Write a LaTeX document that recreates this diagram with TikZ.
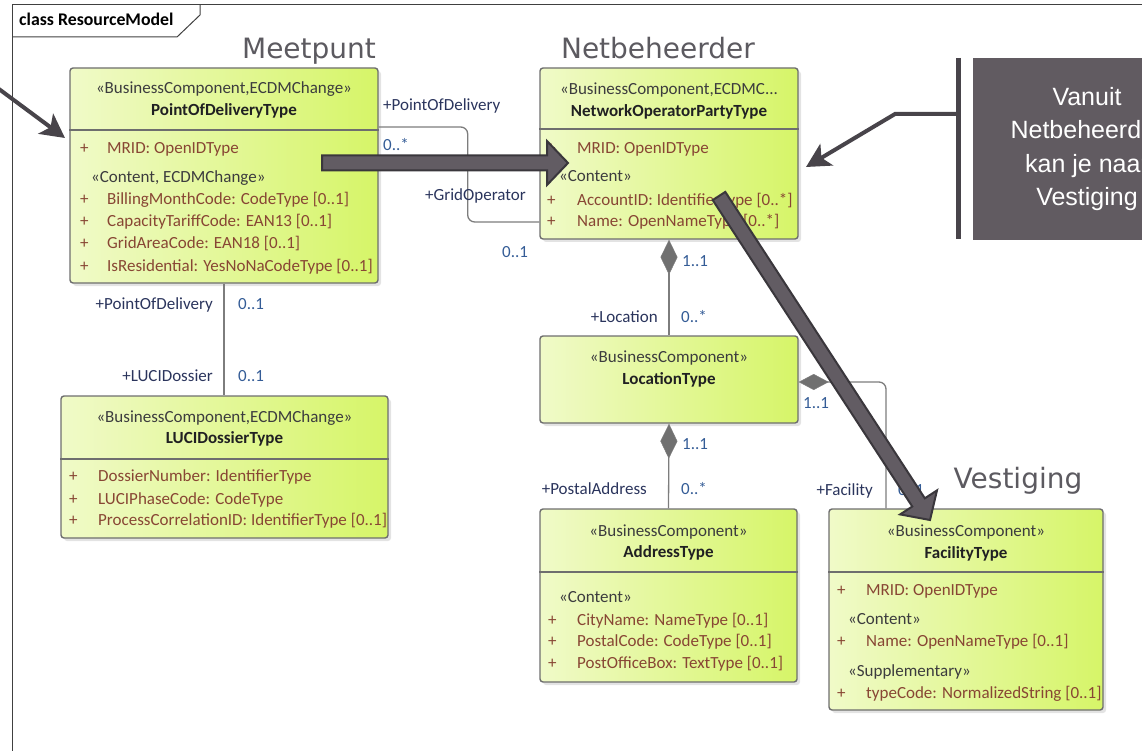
\documentclass[tikz,border=0pt]{standalone}
\usepackage{fontspec}
\setmainfont{Carlito}
\newfontfamily\titlefont{DejaVu Sans}
\newfontfamily\notefont{Liberation Sans}
\usetikzlibrary{arrows.meta,calc,shadows}

\definecolor{boxline}{RGB}{110,110,110}
\definecolor{boxleft}{RGB}{240,250,200}
\definecolor{boxright}{RGB}{214,245,104}
\definecolor{stereocol}{RGB}{60,60,62}
\definecolor{namecol}{RGB}{32,32,34}
\definecolor{attrcol}{RGB}{136,70,52}
\definecolor{rolecol}{RGB}{42,52,92}
\definecolor{multcol}{RGB}{52,92,150}
\definecolor{linecol}{RGB}{125,125,125}
\definecolor{diacol}{RGB}{112,112,112}
\definecolor{titlecol}{RGB}{92,90,96}
\definecolor{notecol}{RGB}{97,91,97}
\definecolor{bigfill}{RGB}{98,92,99}
\definecolor{bigline}{RGB}{58,55,60}
\definecolor{calloutcol}{RGB}{72,68,74}

\tikzset{
  umlclass/.style={draw=boxline, line width=1.4pt, rounded corners=3pt, inner sep=0pt,
    left color=boxleft, right color=boxright,
    drop shadow={shadow xshift=3pt, shadow yshift=-3pt, opacity=0.22}},
  boxsep/.style={draw=boxline, line width=1.2pt},
  stereo/.style={anchor=base, inner sep=0pt, text=stereocol, font=\fontsize{17}{20}\selectfont},
  cname/.style={anchor=base, inner sep=0pt, text=namecol, font=\fontsize{17}{20}\selectfont\bfseries},
  attr/.style={anchor=base west, inner sep=0pt, text=attrcol, font=\fontsize{17}{20}\selectfont},
  compart/.style={anchor=base west, inner sep=0pt, text=stereocol, font=\fontsize{17}{20}\selectfont},
  role/.style={anchor=base east, inner sep=0pt, text=rolecol, font=\fontsize{17}{20}\selectfont},
  mult/.style={anchor=base west, inner sep=0pt, text=multcol, font=\fontsize{17}{20}\selectfont},
  assoc/.style={draw=linecol, line width=1.3pt},
  pkgtitle/.style={anchor=base, inner sep=0pt, text=titlecol, font=\titlefont\fontsize{28}{32}\selectfont},
  callout/.style={draw=calloutcol, line width=4pt, line join=miter,
    -{Stealth[length=24pt,width=25pt,inset=6pt]}},
  bigarrow/.style={draw=bigline, fill=bigfill, line width=2pt, line join=miter}
}

% fat annotation arrow from #1 to #2
\newcommand{\fatarrow}[2]{%
  \coordinate (fh) at ($(#2)!21pt!(#1)$);
  \filldraw[bigarrow] ($(#1)!7.5pt!90:(#2)$) -- ($(fh)!7.5pt!-90:(#1)$)
    -- ($(fh)!22pt!-90:(#1)$) -- (#2) -- ($(fh)!22pt!90:(#1)$)
    -- ($(fh)!7.5pt!90:(#1)$) -- ($(#1)!7.5pt!-90:(#2)$) -- cycle;}

\begin{document}
\begin{tikzpicture}[x=1pt, y=-1pt]
  \useasboundingbox (0,0) rectangle (1142,751);

  % frame
  \draw[black!75, line width=1pt] (12,760) -- (12,5) -- (1160,5);
  \draw[black!75, line width=1pt] (12,37) -- (177,37) -- (200,15) -- (200,5);
  \node[anchor=base west, inner sep=0pt, font=\fontsize{17.8}{20}\selectfont\bfseries] (frametitle) at (19,26) {class ResourceModel};

  % package titles
  \node[pkgtitle] (meetpunt) at (309,59) {Meetpunt};
  \node[pkgtitle] (netbeheerder) at (658,59) {Netbeheerder};
  \node[pkgtitle] (vestiging) at (1018,488) {Vestiging};

  % classes
  \node[umlclass, minimum width=308pt, minimum height=215pt] (pod) at (224,175.5) {};
  \node[umlclass, minimum width=258pt, minimum height=171pt] (nop) at (669,153.5) {};
  \node[umlclass, minimum width=327pt, minimum height=142pt] (luci) at (224.5,467) {};
  \node[umlclass, minimum width=258pt, minimum height=87pt] (loc) at (669,379.5) {};
  \node[umlclass, minimum width=257pt, minimum height=173pt] (addr) at (668.5,595.5) {};
  \node[umlclass, minimum width=274pt, minimum height=201pt] (fac) at (966,609.5) {};

  \draw[boxsep] (pod.west |- 0,130) -- (pod.east |- 0,130);
  \draw[boxsep] (nop.west |- 0,129) -- (nop.east |- 0,129);
  \draw[boxsep] (luci.west |- 0,459) -- (luci.east |- 0,459);
  \draw[boxsep] (addr.west |- 0,572) -- (addr.east |- 0,572);
  \draw[boxsep] (fac.west |- 0,572) -- (fac.east |- 0,572);

  % PointOfDeliveryType
  \node[stereo] (podst) at (224,94) {«BusinessComponent,ECDMChange»};
  \node[cname] (podname) at (224,116) {PointOfDeliveryType};
  \node[attr] (podp1) at (80,154) {+};
  \node[attr] (poda1) at (107,154) {MRID: OpenIDType};
  \node[compart] (podc) at (91,183) {«Content, ECDMChange»};
  \node[attr] (podp2) at (80,205) {+};
  \node[attr] (poda2) at (107,205) {BillingMonthCode: CodeType [0..1]};
  \node[attr] (podp3) at (80,227) {+};
  \node[attr] (poda3) at (107,227) {CapacityTariffCode: EAN13 [0..1]};
  \node[attr] (podp4) at (80,248) {+};
  \node[attr] (poda4) at (107,248) {GridAreaCode: EAN18 [0..1]};
  \node[attr] (podp5) at (80,271) {+};
  \node[attr] (poda5) at (107,271) {IsResidential: YesNoNaCodeType [0..1]};

  % NetworkOperatorPartyType
  \node[stereo] (nopst) at (669,95) {«BusinessComponent,ECDMC...};
  \node[cname] (nopname) at (669,117) {NetworkOperatorPartyType};
  \node[attr] (nopp1) at (547,154) {+};
  \node[attr] (nopa1) at (577,154) {MRID: OpenIDType};
  \node[compart] (nopc) at (559,182) {«Content»};
  \node[attr] (nopp2) at (547,206) {+};
  \node[attr] (nopa2) at (577,206) {AccountID: IdentifierType [0..*]};
  \node[attr] (nopp3) at (547,227) {+};
  \node[attr] (nopa3) at (577,227) {Name: OpenNameType [0..*]};

  % LUCIDossierType
  \node[stereo] (lucist) at (224.5,422) {«BusinessComponent,ECDMChange»};
  \node[cname] (luciname) at (224.5,443) {LUCIDossierType};
  \node[attr] (lucip1) at (69,481) {+};
  \node[attr] (lucia1) at (98,481) {DossierNumber: IdentifierType};
  \node[attr] (lucip2) at (69,504) {+};
  \node[attr] (lucia2) at (98,504) {LUCIPhaseCode: CodeType};
  \node[attr] (lucip3) at (69,525) {+};
  \node[attr] (lucia3) at (98,525) {ProcessCorrelationID: IdentifierType [0..1]};

  % LocationType
  \node[stereo] (locst) at (669,362) {«BusinessComponent»};
  \node[cname] (locname) at (669,384) {LocationType};

  % AddressType
  \node[stereo] (addrst) at (668.5,536) {«BusinessComponent»};
  \node[cname] (addrname) at (668.5,557) {AddressType};
  \node[compart] (addrc) at (559,602) {«Content»};
  \node[attr] (addrp1) at (548,625) {+};
  \node[attr] (addra1) at (577,625) {CityName: NameType [0..1]};
  \node[attr] (addrp2) at (548,646) {+};
  \node[attr] (addra2) at (577,646) {PostalCode: CodeType [0..1]};
  \node[attr] (addrp3) at (548,668) {+};
  \node[attr] (addra3) at (577,668) {PostOfficeBox: TextType [0..1]};

  % FacilityType
  \node[stereo] (facst) at (966,536) {«BusinessComponent»};
  \node[cname] (facname) at (966,558) {FacilityType};
  \node[attr] (facp1) at (837,595) {+};
  \node[attr] (faca1) at (866,595) {MRID: OpenIDType};
  \node[compart] (facc1) at (848,624) {«Content»};
  \node[attr] (facp2) at (837,646) {+};
  \node[attr] (faca2) at (866,646) {Name: OpenNameType [0..1]};
  \node[compart] (facc2) at (848,676) {«Supplementary»};
  \node[attr] (facp3) at (837,698) {+};
  \node[attr] (faca3) at (866,698) {typeCode: NormalizedString [0..1]};

  % associations
  \draw[assoc, rounded corners=7pt] ([yshift=48.5pt]pod.east) -- ++(89,0) |- ([yshift=-68.5pt]nop.west);
  \draw[assoc] (pod.south) -- (pod.south |- luci.north);
  \draw[assoc, {Diamond[length=35pt,width=17pt,fill=diacol,line width=0.5pt]}-] (nop.south) -- (loc.north);
  \draw[assoc, {Diamond[length=35pt,width=17pt,fill=diacol,line width=0.5pt]}-] (loc.south) -- (addr.north);
  \draw[assoc, rounded corners=7pt, {Diamond[length=30pt,width=16pt,fill=diacol,line width=0.5pt]}-]
    ([yshift=-2.5pt]loc.east) -| ([xshift=-80pt]fac.north);

  % association ends
  \node[mult, anchor=base west, text=rolecol] (rpod1) at (383,111) {+PointOfDelivery};
  \node[mult] (mpod1) at (383,151) {0..*};
  \node[role] (rgrid) at (526,201) {+GridOperator};
  \node[mult] (mgrid) at (502,258) {0..1};
  \node[role] (rpod2) at (213,309) {+PointOfDelivery};
  \node[mult] (mpod2) at (238,309) {0..1};
  \node[role] (rluci) at (213,381) {+LUCIDossier};
  \node[mult] (mluci) at (238,381) {0..1};
  \node[mult] (mnop) at (682,266) {1..1};
  \node[role] (rloc) at (658,322) {+Location};
  \node[mult] (mloc) at (681,322) {0..*};
  \node[mult] (mloc2) at (682,449) {1..1};
  \node[role] (raddr) at (647,494) {+PostalAddress};
  \node[mult] (maddr) at (681,494) {0..*};
  \node[mult] (mloc3) at (803,408) {1..1};
  \node[role] (rfac) at (873,495) {+Facility};
  \node[mult] (mfac) at (898,495) {0..1};

  % note
  \node[fill=notecol, text=white, align=center, minimum width=228pt, minimum height=182pt,
    font=\notefont\fontsize{25}{33.5}\selectfont] (note) at (1087,149)
    {Vanuit\\Netbeheerder\\kan je naar\\Vestiging};
  \coordinate (bartop) at (958,58);
  \coordinate (barbot) at (958,239);
  \coordinate (barmid) at (958,114);
  \draw[draw=calloutcol, line width=5pt] (bartop) -- (barbot);
  \coordinate (nopmark) at (806,167);
  \draw[callout] (barmid) -- ++(-63,0) -- (nopmark);

  % pointer from outside to PointOfDeliveryType
  \coordinate (podfrom) at (-20,75);
  \coordinate (podmark) at (65,138);
  \draw[callout] (podfrom) -- (podmark);

  % fat arrows
  \coordinate (a1s) at (322,163);
  \coordinate (a1t) at (568,163);
  \fatarrow{a1s}{a1t}
  \coordinate (a2s) at (719,196);
  \coordinate (a2t) at (930,520);
  \fatarrow{a2s}{a2t}
\end{tikzpicture}
\end{document}
